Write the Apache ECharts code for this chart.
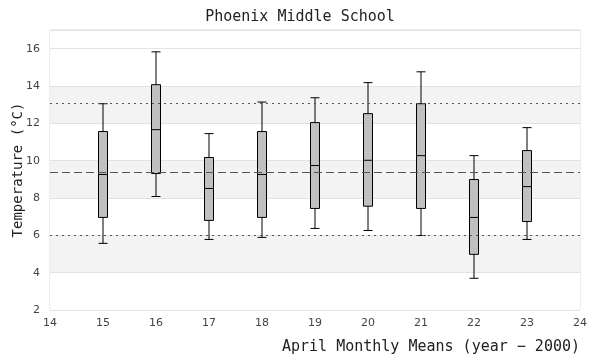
<!DOCTYPE html>
<html>
<head>
<meta charset="utf-8">
<script src="https://cdn.jsdelivr.net/npm/echarts@6/dist/echarts.min.js"></script>
<style>html,body{margin:0;padding:0;background:#fff}#c{width:600px;height:360px}</style>
</head>
<body>
<div id="c"></div>
<script>
var years = [15, 16, 17, 18, 19, 20, 21, 22, 23];
var mins  = [5.57, 8.08, 5.78, 5.89, 6.37, 6.26, 5.99, 3.70, 5.78];
var q1s   = [6.96, 9.31, 6.80, 6.96, 7.44, 7.56, 7.44, 4.98, 6.74];
var meds  = [9.26, 11.66, 8.51, 9.26, 9.74, 10.02, 10.27, 6.96, 8.61];
var q3s   = [11.56, 14.07, 10.17, 11.56, 12.04, 12.52, 13.05, 8.99, 10.54];
var maxs  = [13.05, 15.83, 11.45, 13.14, 13.37, 14.18, 14.76, 10.27, 11.77];
var refMean = 9.37;
var refUpper = 13.07;
var refLower = 6.0;
var titleText = 'Phoenix Middle School';
var xName = 'April Monthly Means (year \u2212 2000)';
var yName = 'Temperature (\u00B0C)';

var boxData = years.map(function (y, i) {
  return [y, mins[i], q1s[i], meds[i], q3s[i], maxs[i]];
});

var mono = '"DejaVu Sans Mono", "Liberation Mono", monospace';
var chart = echarts.init(document.getElementById('c'), null, {renderer: 'canvas'});
chart.setOption({
  animation: false,
  backgroundColor: '#fff',
  title: {
    text: titleText, left: 'center', top: 5,
    textStyle: {fontFamily: mono, fontSize: 15, fontWeight: 'normal', color: '#222'}
  },
  grid: {left: 50, right: 20, top: 30, bottom: 50, show: true, borderColor: '#dcdcdc', borderWidth: 1, backgroundColor: 'transparent', outerBoundsMode: 'none', containLabel: false},
  xAxis: {
    type: 'value', min: 14, max: 24, interval: 1,
    name: xName, nameLocation: 'end', nameGap: 0, nameMoveOverlap: false,
    nameTextStyle: {fontFamily: mono, fontSize: 15, color: '#222', align: 'right', verticalAlign: 'top', padding: [30, 0, 0, 0]},
    axisLine: {show: false}, axisTick: {show: false}, splitLine: {show: false},
    axisLabel: {color: '#444', fontSize: 11, fontFamily: '"DejaVu Sans", sans-serif', margin: 8}
  },
  yAxis: {
    type: 'value', min: 2, max: 17, interval: 2,
    name: yName, nameLocation: 'middle', nameGap: 25, nameMoveOverlap: false,
    nameTextStyle: {fontFamily: mono, fontSize: 14, color: '#222'},
    axisLine: {show: false}, axisTick: {show: false},
    axisLabel: {color: '#444', fontSize: 11, fontFamily: '"DejaVu Sans", sans-serif', margin: 10, showMaxLabel: false},
    splitLine: {show: true, lineStyle: {color: '#e2e2e2', width: 1}},
    splitArea: {show: true, areaStyle: {color: ['#ffffff', '#f3f3f3', '#ffffff', '#f3f3f3', '#ffffff', '#f3f3f3', '#ffffff', '#ffffff']}}
  },
  series: [
    {
      type: 'line', data: [], z: 1, silent: true,
      markLine: {
        silent: true, symbol: ['none', 'none'], label: {show: false},
        lineStyle: {color: '#555', width: 1},
        data: [
          {yAxis: refUpper, lineStyle: {type: [2, 4], color: '#555', width: 1}},
          {yAxis: refMean, lineStyle: {type: [8, 4], color: '#555', width: 1}},
          {yAxis: refLower, lineStyle: {type: [2, 4], color: '#555', width: 1}}
        ]
      }
    },
    {
      type: 'boxplot', z: 3,
      boxWidth: [9, 9],
      itemStyle: {color: '#c0c0c0', borderColor: '#000', borderWidth: 1},
      data: boxData
    }
  ]
});
</script>
</body>
</html>
